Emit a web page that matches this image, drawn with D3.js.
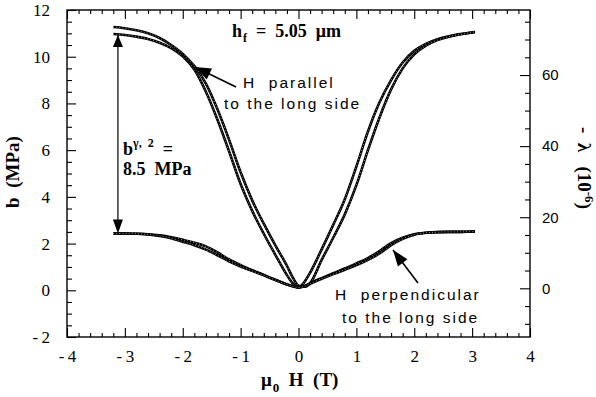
<!DOCTYPE html>
<html>
<head>
<meta charset="utf-8">
<script src="https://cdn.jsdelivr.net/npm/d3@7/dist/d3.min.js"></script>
<style>
  html, body { margin: 0; padding: 0; background: #fff; }
  svg { display: block; }
  text { white-space: pre; }
</style>
</head>
<body>
<script>
// Applied field (T) at which each magnetoelastic coefficient is sampled
const fieldT = [-3.2, -3.0, -2.8, -2.6, -2.4, -2.2, -2.0, -1.8, -1.6, -1.4, -1.2, -1.0, -0.8, -0.6, -0.4, -0.2, -0.1, 0, 0.1, 0.2, 0.4, 0.6, 0.8, 1.0, 1.2, 1.4, 1.6, 1.8, 2.0, 2.2, 2.4, 2.6, 2.8, 3.0, 3.05];

// b (MPa), H parallel to the long side, two field sweeps
const parallelSweepA = [10.97, 10.93, 10.86, 10.76, 10.60, 10.37, 10.02, 9.45, 8.50, 7.30, 5.95, 4.55, 3.40, 2.42, 1.52, 0.65, 0.30, 0.12, 0.35, 0.75, 1.75, 2.80, 3.90, 5.30, 6.80, 8.05, 9.00, 9.75, 10.25, 10.55, 10.75, 10.88, 10.97, 11.04, 11.06];
const parallelSweepB = [11.27, 11.22, 11.13, 11.00, 10.80, 10.50, 10.12, 9.60, 8.85, 7.75, 6.45, 5.05, 3.85, 2.85, 1.92, 1.05, 0.55, 0.20, 0.15, 0.30, 1.30, 2.25, 3.25, 4.50, 6.00, 7.40, 8.60, 9.50, 10.10, 10.47, 10.71, 10.86, 10.96, 11.04, 11.06];

// b (MPa), H perpendicular to the long side, two field sweeps
const perpSweepA = [2.43, 2.43, 2.42, 2.40, 2.35, 2.27, 2.16, 2.04, 1.88, 1.62, 1.32, 1.08, 0.86, 0.66, 0.45, 0.25, 0.17, 0.12, 0.18, 0.30, 0.52, 0.73, 0.93, 1.15, 1.38, 1.68, 2.02, 2.25, 2.40, 2.46, 2.49, 2.50, 2.50, 2.51, 2.51];
const perpSweepB = [2.43, 2.43, 2.42, 2.39, 2.33, 2.23, 2.08, 1.93, 1.74, 1.50, 1.24, 1.02, 0.83, 0.64, 0.44, 0.25, 0.17, 0.12, 0.17, 0.28, 0.49, 0.69, 0.88, 1.08, 1.30, 1.58, 1.93, 2.20, 2.38, 2.46, 2.49, 2.50, 2.50, 2.51, 2.51];

// Saturation difference between the two configurations (MPa)
const bGap = 8.5;

// Axis ticks
const fieldTicks = [-4, -3, -2, -1, 0, 1, 2, 3, 4];
const bTicks = [-2, 0, 2, 4, 6, 8, 10, 12];
const lambdaTicks = [0, 20, 40, 60];

const W = 596, H = 397;
const plot = { left: 67, right: 530, top: 10, bottom: 337 };

const svg = d3.select("body").append("svg")
  .attr("width", W).attr("height", H)
  .attr("viewBox", `0 0 ${W} ${H}`);

svg.append("rect").attr("width", W).attr("height", H).attr("fill", "#fff");

const x = d3.scaleLinear().domain([-4, 4]).range([plot.left, plot.right]);
const y = d3.scaleLinear().domain([-2, 12]).range([plot.bottom, plot.top]);
const yLambda = d3.scaleLinear().domain([-13.7, 78.3]).range([plot.bottom, plot.top]);

const serif = "'Liberation Serif', 'Times New Roman', serif";
const sans = "'Liberation Sans', Arial, sans-serif";

const fmtMinus = d => d < 0 ? "-\u2009" + Math.abs(d) : String(d);

function styleAxis(g, size, family) {
  g.select(".domain").remove();
  g.selectAll(".tick line").attr("stroke", "#000").attr("stroke-width", 1.1);
  g.selectAll(".tick text").attr("fill", "#000")
    .attr("font-family", family).attr("font-size", size);
}

// minor tick positions
const xMinor = d3.range(-40, 41, 2).map(v => v / 10).filter(v => !fieldTicks.includes(v));
const bMinor = d3.range(-4, 25, 1).map(v => v / 2).filter(v => !bTicks.includes(v));
const lambdaMinor = d3.range(-10, 80, 5).filter(v => !lambdaTicks.includes(v));

// bottom axis
svg.append("g").attr("transform", `translate(0,${plot.bottom})`)
  .call(d3.axisBottom(x).tickValues(xMinor).tickSize(-4).tickFormat(""))
  .call(g => styleAxis(g, 16, serif));
svg.append("g").attr("transform", `translate(0,${plot.bottom})`)
  .call(d3.axisBottom(x).tickValues(fieldTicks).tickSize(-9).tickPadding(13).tickFormat(fmtMinus))
  .call(g => styleAxis(g, 17, serif));

// top axis (ticks only)
svg.append("g").attr("transform", `translate(0,${plot.top})`)
  .call(d3.axisTop(x).tickValues(xMinor).tickSize(-4).tickFormat(""))
  .call(g => styleAxis(g, 16, serif));
svg.append("g").attr("transform", `translate(0,${plot.top})`)
  .call(d3.axisTop(x).tickValues(fieldTicks).tickSize(-9).tickFormat(""))
  .call(g => styleAxis(g, 16, serif));

// left axis
svg.append("g").attr("transform", `translate(${plot.left},0)`)
  .call(d3.axisLeft(y).tickValues(bMinor).tickSize(-5).tickFormat(""))
  .call(g => styleAxis(g, 16, serif));
svg.append("g").attr("transform", `translate(${plot.left},0)`)
  .call(d3.axisLeft(y).tickValues(bTicks).tickSize(-9).tickPadding(17).tickFormat(fmtMinus))
  .call(g => styleAxis(g, 17, serif));

// right axis
svg.append("g").attr("transform", `translate(${plot.right},0)`)
  .call(d3.axisRight(yLambda).tickValues(lambdaMinor).tickSize(-5).tickFormat(""))
  .call(g => styleAxis(g, 15, sans));
svg.append("g").attr("transform", `translate(${plot.right},0)`)
  .call(d3.axisRight(yLambda).tickValues(lambdaTicks).tickSize(-10).tickPadding(12).tickFormat(d3.format("d")))
  .call(g => styleAxis(g, 15, sans));

// frame
svg.append("rect")
  .attr("x", plot.left).attr("y", plot.top)
  .attr("width", plot.right - plot.left).attr("height", plot.bottom - plot.top)
  .attr("fill", "none").attr("stroke", "#000").attr("stroke-width", 1.4);

// data curves, drawn as beaded chains of points
const line = d3.line()
  .x((d, i) => x(fieldT[i]))
  .y(d => y(d))
  .curve(d3.curveMonotoneX);

const curves = svg.append("g");
[parallelSweepA, parallelSweepB, perpSweepA, perpSweepB].forEach(series => {
  curves.append("path").attr("d", line(series))
    .attr("fill", "none").attr("stroke", "#000").attr("stroke-width", 2.6)
    .attr("stroke-linejoin", "round");
  curves.append("path").attr("d", line(series))
    .attr("fill", "none").attr("stroke", "#fff").attr("stroke-width", 0.8)
    .attr("stroke-dasharray", "0.7 2.4");
});

// arrow helper: shaft plus filled head at (x2,y2)
function arrowHead(g, x1, y1, x2, y2, len, half) {
  const a = Math.atan2(y2 - y1, x2 - x1);
  const bx = x2 - len * Math.cos(a), by = y2 - len * Math.sin(a);
  const px = -Math.sin(a) * half, py = Math.cos(a) * half;
  g.append("path")
    .attr("d", `M${x2},${y2}L${bx + px},${by + py}L${bx - px},${by - py}Z`)
    .attr("fill", "#000");
}
function arrow(x1, y1, x2, y2, len, half, width) {
  const g = svg.append("g");
  g.append("line").attr("x1", x1).attr("y1", y1).attr("x2", x2).attr("y2", y2)
    .attr("stroke", "#000").attr("stroke-width", width);
  arrowHead(g, x1, y1, x2, y2, len, half);
  return g;
}

// double arrow spanning the saturation gap
const gapX = x(-3.12);
const gapBottom = perpSweepA[0];
const gapTop = gapBottom + bGap;
const ga = arrow(gapX, y(gapTop) + 6, gapX, y(gapTop), 12, 5, 1.2);
ga.append("line").attr("x1", gapX).attr("x2", gapX)
  .attr("y1", y(gapTop) + 6).attr("y2", y(gapBottom) - 6)
  .attr("stroke", "#000").attr("stroke-width", 1.2);
arrowHead(ga, gapX, y(gapBottom) - 10, gapX, y(gapBottom), 14, 5);

// annotation arrows pointing at each curve family
arrow(236, 87, 195, 67, 16, 6, 1.6);
arrow(418, 283, 393, 250, 16, 6, 1.6);

// annotations
const boldSerif = t => t.attr("font-family", serif).attr("font-weight", "bold").attr("fill", "#000");

const hf = svg.append("text").attr("x", 232).attr("y", 37).attr("font-size", 18).call(boldSerif);
hf.append("tspan").text("h");
hf.append("tspan").attr("font-size", 12).attr("dy", 5).attr("dx", 1).text("f");
hf.append("tspan").attr("dy", -5).text("  =  5.05  μm");

const bg = svg.append("text").attr("x", 123).attr("y", 155).attr("font-size", 18).call(boldSerif);
bg.append("tspan").text("b");
bg.append("tspan").attr("font-size", 12).attr("dy", -8).text("γ,  2");
bg.append("tspan").attr("dy", 8).text("  =");
svg.append("text").attr("x", 123).attr("y", 175).attr("font-size", 18).call(boldSerif)
  .text("8.5  MPa");

const sansNote = (tx, ty, str) => svg.append("text").attr("x", tx).attr("y", ty)
  .attr("font-family", sans).attr("font-size", 15.5).attr("letter-spacing", 2)
  .attr("fill", "#000").text(str);
sansNote(243, 88, "H  parallel");
sansNote(224, 109, "to the long side");
sansNote(335, 300, "H  perpendicular");
sansNote(342, 323, "to the long side");

// axis titles
svg.append("text").attr("transform", "translate(19,172) rotate(-90)")
  .attr("text-anchor", "middle").attr("font-size", 19).call(boldSerif)
  .text("b  (MPa)");

const xt = svg.append("text").attr("x", 261).attr("y", 386).attr("font-size", 19).call(boldSerif);
xt.append("tspan").text("μ");
xt.append("tspan").attr("font-size", 13).attr("dy", 6).attr("dx", 1).text("0");
xt.append("tspan").attr("dy", -6).text("  H  (T)");

const yt = svg.append("text").attr("transform", "translate(578,168) rotate(90)")
  .attr("text-anchor", "middle").attr("font-size", 19).call(boldSerif);
yt.append("tspan").text("-  λ   (10");
yt.append("tspan").attr("font-size", 13).attr("dy", -7).text("-6");
yt.append("tspan").attr("dy", 7).text(")");
</script>
</body>
</html>
